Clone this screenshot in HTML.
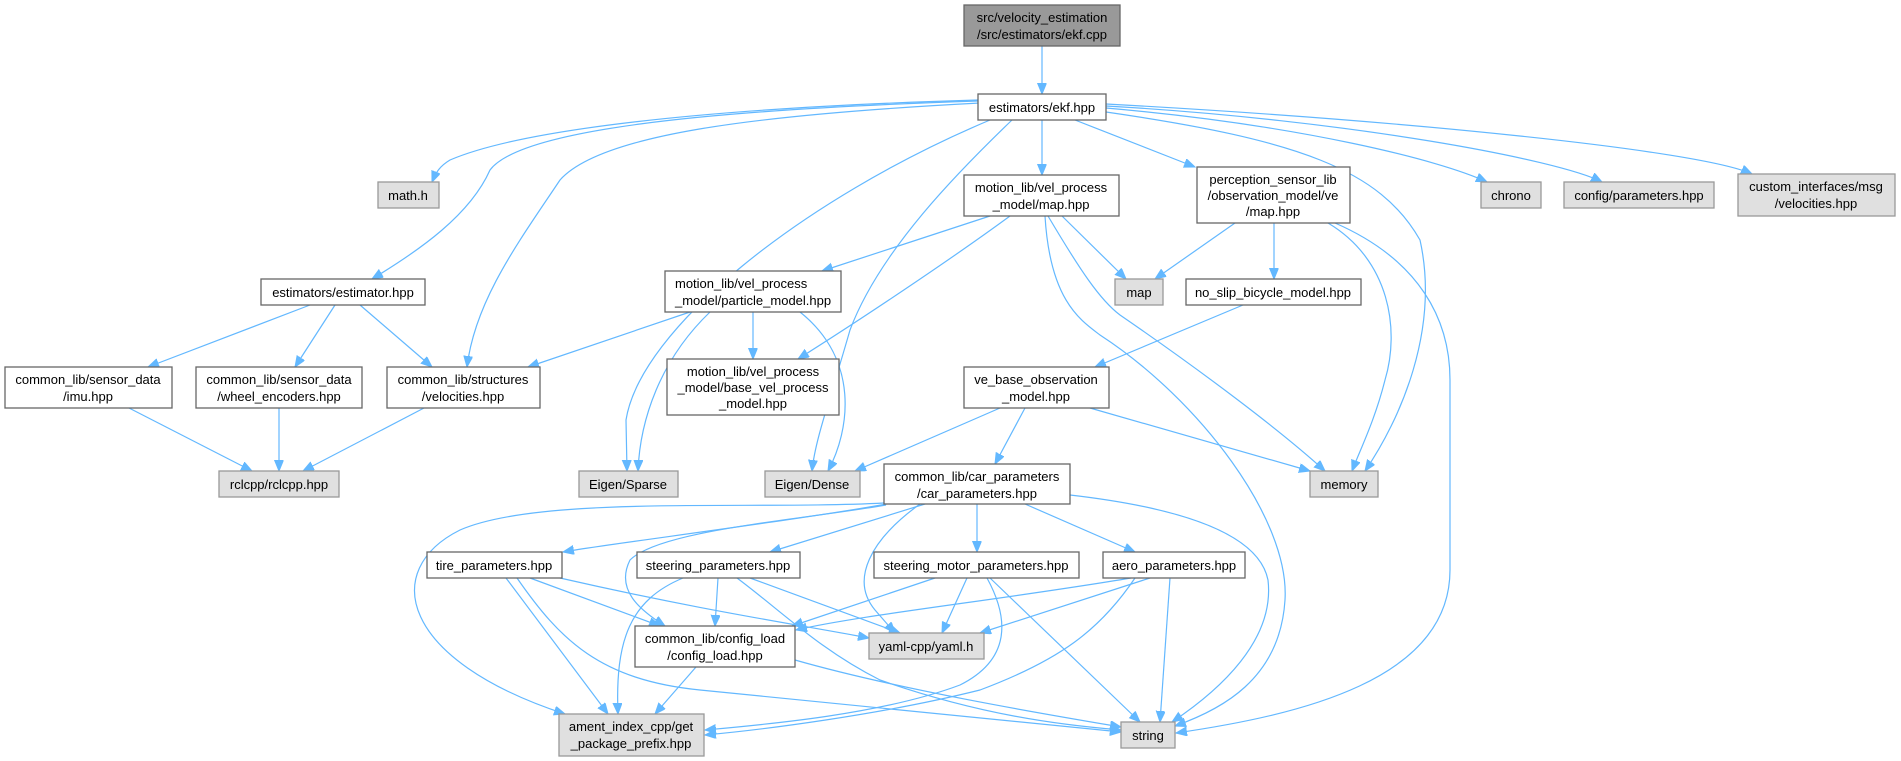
<!DOCTYPE html>
<html><head><meta charset="utf-8"><style>
html,body{margin:0;padding:0;background:#fff;}
svg{display:block;}
text{font-family:"Liberation Sans",Arial,sans-serif;font-size:13px;fill:#000;}
.e{fill:none;stroke:#63b8ff;stroke-width:1.2;marker-end:url(#a);}
.w{fill:#fff;stroke:#666;stroke-width:1.3;}
.g{fill:#e0e0e0;stroke:#999;stroke-width:1.3;}
.d{fill:#999;stroke:#666;stroke-width:1.3;}
</style></head><body>
<svg width="1901" height="761" viewBox="0 0 1901 761" xmlns="http://www.w3.org/2000/svg">
<defs><marker id="a" markerUnits="userSpaceOnUse" markerWidth="12" markerHeight="10" refX="11" refY="4.5" orient="auto"><polygon points="0,0 11,4.5 0,9" fill="#63b8ff" stroke="#63b8ff"/></marker></defs>
<g>
<path class="e" d="M1042,46 L1042,94"/>
<path class="e" d="M978,100 C700,108 520,130 450,160 C440,166 436,172 432,182"/>
<path class="e" d="M978,101 C700,110 520,130 490,170 C470,215 420,250 372,279"/>
<path class="e" d="M980,103 C750,115 600,135 560,180 C520,240 475,300 467,367"/>
<path class="e" d="M990,120 C800,200 640,330 626,420 L627,471"/>
<path class="e" d="M1012,120 C960,170 880,250 850,330 C830,400 815,440 812,471"/>
<path class="e" d="M1042,120 L1042,175"/>
<path class="e" d="M1075,120 L1195,167"/>
<path class="e" d="M1106,112 C1300,140 1380,170 1420,240 C1440,330 1400,420 1365,471"/>
<path class="e" d="M1106,108 C1300,125 1440,160 1487,182"/>
<path class="e" d="M1106,106 C1350,120 1560,160 1602,182"/>
<path class="e" d="M1106,104 C1400,120 1700,150 1752,174"/>
<path class="e" d="M310,305 L148,367"/>
<path class="e" d="M335,305 L295,367"/>
<path class="e" d="M360,305 L432,367"/>
<path class="e" d="M129,408 L252,471"/>
<path class="e" d="M279,408 L279,471"/>
<path class="e" d="M424,408 L303,471"/>
<path class="e" d="M690,312 L528,367"/>
<path class="e" d="M710,312 C660,360 640,420 638,471"/>
<path class="e" d="M753,312 L753,359"/>
<path class="e" d="M800,312 C860,360 850,430 828,471"/>
<path class="e" d="M990,216 L822,271"/>
<path class="e" d="M1010,216 C950,260 860,320 798,359"/>
<path class="e" d="M1062,216 L1126,279"/>
<path class="e" d="M1048,216 C1080,270 1100,300 1120,315 C1200,370 1280,430 1325,471"/>
<path class="e" d="M1045,216 C1050,300 1080,320 1100,335 C1200,400 1290,520 1285,600 C1280,680 1220,710 1175,726"/>
<path class="e" d="M1235,223 L1155,279"/>
<path class="e" d="M1274,223 L1274,279"/>
<path class="e" d="M1328,223 C1390,260 1400,330 1385,380 C1375,420 1360,450 1352,471"/>
<path class="e" d="M1335,223 C1420,260 1450,320 1450,380 L1450,570 C1450,680 1300,715 1176,733"/>
<path class="e" d="M1243,305 L1095,367"/>
<path class="e" d="M1000,408 L855,471"/>
<path class="e" d="M1025,408 L995,464"/>
<path class="e" d="M1090,408 L1310,471"/>
<path class="e" d="M884,503 C750,510 540,495 460,530 C380,570 400,660 565,714"/>
<path class="e" d="M892,503 C800,520 600,545 563,552"/>
<path class="e" d="M886,505 C800,520 660,530 630,560 C615,590 640,610 665,626"/>
<path class="e" d="M925,504 L770,552"/>
<path class="e" d="M920,504 C870,540 850,580 875,610 L895,633"/>
<path class="e" d="M977,504 L977,552"/>
<path class="e" d="M1025,504 L1135,552"/>
<path class="e" d="M1070,495 C1200,510 1260,540 1268,580 C1275,640 1220,690 1172,722"/>
<path class="e" d="M506,578 L608,714"/>
<path class="e" d="M517,578 C560,640 600,680 700,690 C900,710 1050,725 1121,732"/>
<path class="e" d="M530,578 L660,626"/>
<path class="e" d="M560,578 C700,610 800,625 869,638"/>
<path class="e" d="M683,578 C630,600 615,640 618,714"/>
<path class="e" d="M718,578 L715,626"/>
<path class="e" d="M737,578 C780,610 820,650 880,680 C980,715 1060,725 1121,730"/>
<path class="e" d="M750,578 L900,633"/>
<path class="e" d="M935,578 L792,626"/>
<path class="e" d="M967,578 L942,633"/>
<path class="e" d="M987,578 C1010,620 1010,660 960,685 C880,715 760,725 705,730"/>
<path class="e" d="M990,578 L1140,722"/>
<path class="e" d="M1131,578 C1000,600 860,615 796,630"/>
<path class="e" d="M1150,578 L980,633"/>
<path class="e" d="M1135,578 C1100,630 1060,660 980,690 C880,715 760,730 705,735"/>
<path class="e" d="M1170,578 L1160,722"/>
<path class="e" d="M696,667 L655,714"/>
<path class="e" d="M795,660 C900,690 1050,715 1121,727"/>
</g>
<g text-anchor="middle">
<rect class="d" x="964" y="5" width="156" height="41"/><text x="1042" y="22">src/velocity_estimation</text><text x="1042" y="39">/src/estimators/ekf.cpp</text>
<rect class="w" x="978" y="94" width="128" height="26"/><text x="1042" y="112">estimators/ekf.hpp</text>
<rect class="g" x="378" y="182" width="61" height="26"/><text x="408" y="200">math.h</text>
<rect class="w" x="261" y="279" width="164" height="26"/><text x="343" y="297">estimators/estimator.hpp</text>
<rect class="w" x="964" y="175" width="155" height="41"/><text x="1041" y="192">motion_lib/vel_process</text><text x="1041" y="209">_model/map.hpp</text>
<rect class="w" x="1197" y="167" width="153" height="56"/><text x="1273" y="184">perception_sensor_lib</text><text x="1273" y="200">/observation_model/ve</text><text x="1273" y="216">/map.hpp</text>
<rect class="g" x="1481" y="182" width="60" height="26"/><text x="1511" y="200">chrono</text>
<rect class="g" x="1564" y="182" width="150" height="26"/><text x="1639" y="200">config/parameters.hpp</text>
<rect class="g" x="1738" y="174" width="157" height="42"/><text x="1816" y="191">custom_interfaces/msg</text><text x="1816" y="208">/velocities.hpp</text>
<rect class="g" x="1115" y="279" width="48" height="26"/><text x="1139" y="297">map</text>
<rect class="w" x="1186" y="279" width="175" height="26"/><text x="1273" y="297">no_slip_bicycle_model.hpp</text>
<rect class="w" x="964" y="367" width="145" height="41"/><text x="1036" y="384">ve_base_observation</text><text x="1036" y="401">_model.hpp</text>
<rect class="w" x="665" y="271" width="176" height="41"/><text x="675" y="288" text-anchor="start">motion_lib/vel_process</text><text x="675" y="305" text-anchor="start">_model/particle_model.hpp</text>
<rect class="w" x="667" y="359" width="172" height="56"/><text x="753" y="376">motion_lib/vel_process</text><text x="753" y="392">_model/base_vel_process</text><text x="753" y="408">_model.hpp</text>
<rect class="w" x="5" y="367" width="167" height="41"/><text x="88" y="384">common_lib/sensor_data</text><text x="88" y="401">/imu.hpp</text>
<rect class="w" x="196" y="367" width="166" height="41"/><text x="279" y="384">common_lib/sensor_data</text><text x="279" y="401">/wheel_encoders.hpp</text>
<rect class="w" x="387" y="367" width="153" height="41"/><text x="463" y="384">common_lib/structures</text><text x="463" y="401">/velocities.hpp</text>
<rect class="g" x="219" y="471" width="120" height="26"/><text x="279" y="489">rclcpp/rclcpp.hpp</text>
<rect class="g" x="579" y="471" width="99" height="26"/><text x="628" y="489">Eigen/Sparse</text>
<rect class="g" x="765" y="471" width="95" height="26"/><text x="812" y="489">Eigen/Dense</text>
<rect class="w" x="884" y="464" width="186" height="40"/><text x="977" y="481">common_lib/car_parameters</text><text x="977" y="498">/car_parameters.hpp</text>
<rect class="g" x="1310" y="471" width="68" height="26"/><text x="1344" y="489">memory</text>
<rect class="w" x="427" y="552" width="135" height="26"/><text x="494" y="570">tire_parameters.hpp</text>
<rect class="w" x="637" y="552" width="163" height="26"/><text x="718" y="570">steering_parameters.hpp</text>
<rect class="w" x="874" y="552" width="205" height="26"/><text x="976" y="570">steering_motor_parameters.hpp</text>
<rect class="w" x="1103" y="552" width="142" height="26"/><text x="1174" y="570">aero_parameters.hpp</text>
<rect class="w" x="635" y="626" width="160" height="41"/><text x="715" y="643">common_lib/config_load</text><text x="715" y="660">/config_load.hpp</text>
<rect class="g" x="869" y="633" width="115" height="26"/><text x="926" y="651">yaml-cpp/yaml.h</text>
<rect class="g" x="559" y="714" width="145" height="42"/><text x="631" y="731">ament_index_cpp/get</text><text x="631" y="748">_package_prefix.hpp</text>
<rect class="g" x="1121" y="722" width="54" height="26"/><text x="1148" y="740">string</text>
</g>
</svg>
</body></html>
